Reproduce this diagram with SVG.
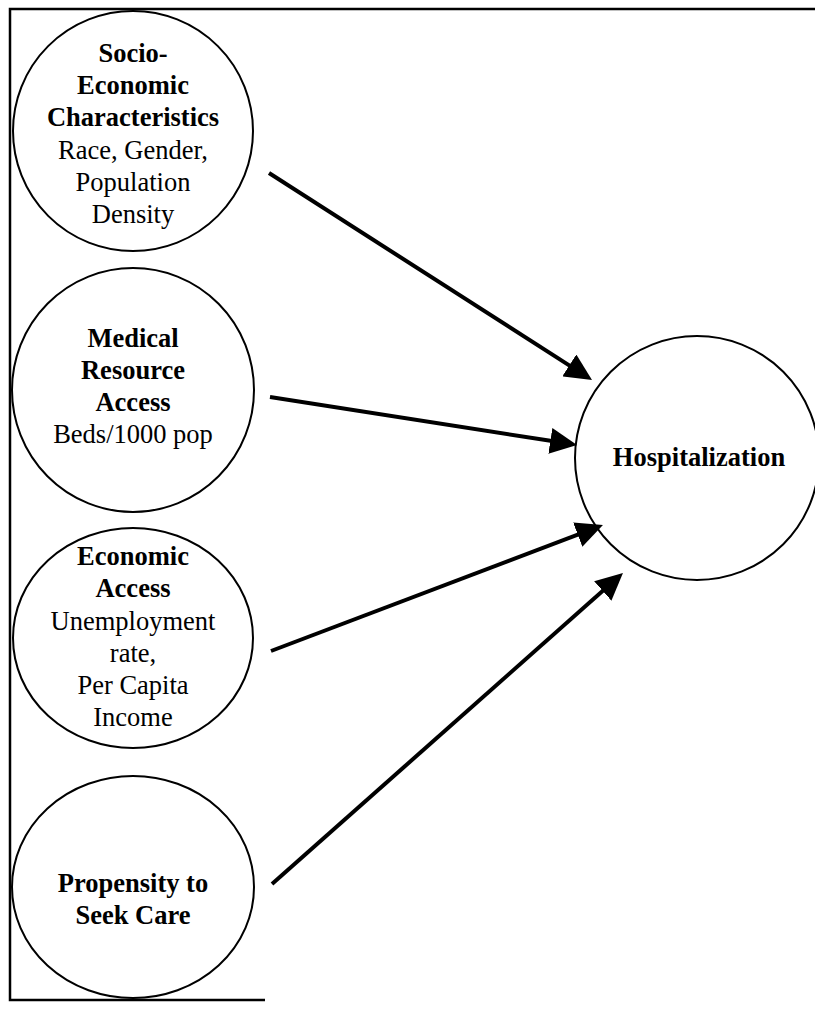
<svg xmlns="http://www.w3.org/2000/svg" width="815" height="1020" viewBox="0 0 815 1020">
<style>
.node{fill:#fff;stroke:#000;stroke-width:2}
.t{font-family:"Liberation Serif","Times New Roman",serif;font-size:26.5px;fill:#000;text-anchor:middle}
.b{font-weight:bold}
.conn{stroke:#000;stroke-width:4;fill:none}
</style>
<defs>
<marker id="ah" markerUnits="userSpaceOnUse" markerWidth="27" markerHeight="26" refX="5" refY="13" orient="auto">
<path d="M0,0 L27,13 L0,26 z" fill="#000"/>
</marker>
</defs>
<rect width="815" height="1020" fill="#fff"/>
<g id="frame" stroke="#000" stroke-width="2.5" fill="none">
<path d="M815,9 L10,9 L10,1000 L265,1000"/>
</g>
<g id="socio">
<circle class="node" cx="133" cy="131" r="120"/>
<text class="t b" x="133" y="62">Socio-</text>
<text class="t b" x="133" y="94">Economic</text>
<text class="t b" x="133" y="126">Characteristics</text>
<text class="t" x="133" y="159">Race, Gender,</text>
<text class="t" x="133" y="191">Population</text>
<text class="t" x="133" y="223">Density</text>
</g>
<g id="medical">
<ellipse class="node" cx="133" cy="390" rx="121" ry="122"/>
<text class="t b" x="133" y="347">Medical</text>
<text class="t b" x="133" y="379">Resource</text>
<text class="t b" x="133" y="411">Access</text>
<text class="t" x="133" y="443">Beds/1000 pop</text>
</g>
<g id="economic">
<ellipse class="node" cx="133" cy="638" rx="120" ry="110"/>
<text class="t b" x="133" y="565">Economic</text>
<text class="t b" x="133" y="597">Access</text>
<text class="t" x="133" y="630">Unemployment</text>
<text class="t" x="133" y="662">rate,</text>
<text class="t" x="133" y="694">Per Capita</text>
<text class="t" x="133" y="726">Income</text>
</g>
<g id="propensity">
<ellipse class="node" cx="133" cy="887" rx="121" ry="111"/>
<text class="t b" x="133" y="892">Propensity to</text>
<text class="t b" x="133" y="924">Seek Care</text>
</g>
<g id="hospitalization">
<circle class="node" cx="697" cy="458" r="122"/>
<text class="t b" x="699" y="466">Hospitalization</text>
</g>
<g id="connectors">
<line class="conn" x1="269" y1="173" x2="573.5" y2="368.1" marker-end="url(#ah)"/>
<line class="conn" x1="270" y1="397" x2="555.3" y2="441.6" marker-end="url(#ah)"/>
<line class="conn" x1="271" y1="651" x2="582.4" y2="532.8" marker-end="url(#ah)"/>
<line class="conn" x1="272" y1="884" x2="606.5" y2="587.6" marker-end="url(#ah)"/>
</g>
</svg>
